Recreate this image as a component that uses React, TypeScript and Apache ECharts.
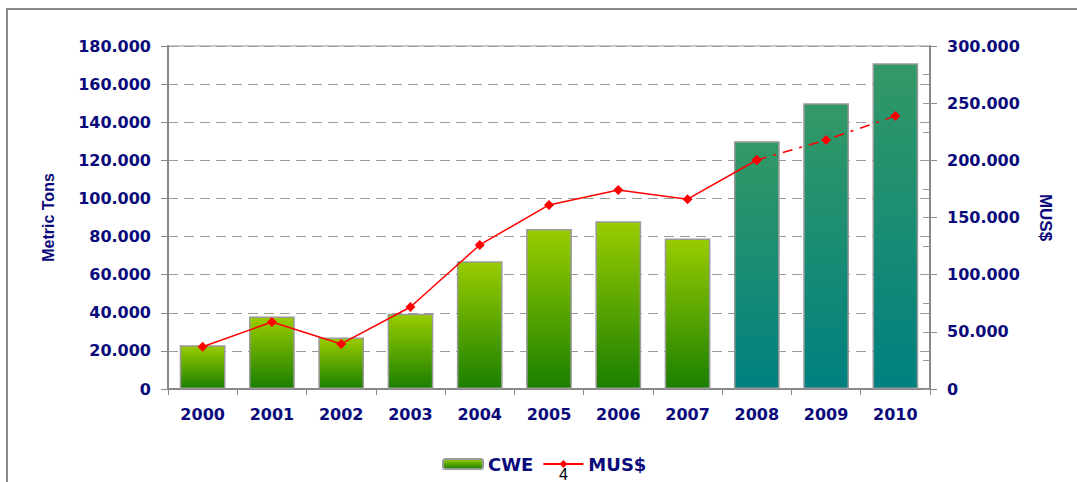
import React, { useEffect, useRef } from "react";
import * as echarts from "echarts";

const years = ["2000", "2001", "2002", "2003", "2004", "2005", "2006", "2007", "2008", "2009", "2010"];
const cweTons = [23000, 38000, 27000, 39500, 67000, 84000, 88000, 79000, 130000, 150000, 171000];
const musActual = [37000, 58600, 39400, 71700, 126000, 161000, 174000, 166000, 200300, null, null];
const musForecast = [null, null, null, null, null, null, null, null, 200300, 217800, 238800];
const forecastFrom = 8;

const fmt = (v: number) => String(v).replace(/\B(?=(\d{3})+(?!\d))/g, ".");

const greenGrad = {
  type: "linear", x: 0, y: 0, x2: 0, y2: 1,
  colorStops: [
    { offset: 0, color: "#99CC00" },
    { offset: 1, color: "#1A7F00" },
  ],
};
const tealGrad = {
  type: "linear", x: 0, y: 0, x2: 0, y2: 1,
  colorStops: [
    { offset: 0, color: "#339966" },
    { offset: 1, color: "#008080" },
  ],
};

const navy = "#0A0A7A";
const tickFont = { fontFamily: "DejaVu Sans", fontWeight: "bold", fontSize: 16, color: navy };

export default function App() {
  const ref = useRef<HTMLDivElement>(null);
  useEffect(() => {
    if (!ref.current) return;
    const chart = echarts.init(ref.current, null, { renderer: "svg" });
    chart.setOption({
      animation: false,
      backgroundColor: "#ffffff",
      grid: { left: 168, right: 147, top: 46, bottom: 93, show: true, borderColor: "#999999", borderWidth: 1 },
      legend: {
        data: ["CWE", "MUS$"],
        left: 437,
        top: 450,
        itemWidth: 40,
        itemHeight: 10,
        itemGap: 9,
        textStyle: { fontFamily: "DejaVu Sans", fontWeight: "bold", fontSize: 18, color: navy },
      },
      xAxis: {
        type: "category",
        data: years,
        axisLine: { lineStyle: { color: "#888888", width: 2 } },
        axisTick: { show: true, length: 6, lineStyle: { color: "#888888" } },
        axisLabel: { ...tickFont, margin: 17 },
      },
      yAxis: [
        {
          type: "value",
          min: 0,
          max: 180000,
          interval: 20000,
          name: "Metric Tons",
          nameLocation: "middle",
          nameGap: 112,
          nameTextStyle: { fontFamily: "Liberation Sans", fontWeight: "bold", fontSize: 16, color: navy },
          axisLine: { show: true, lineStyle: { color: "#888888", width: 2 } },
          axisTick: { show: true, length: 7, lineStyle: { color: "#888888" } },
          axisLabel: { ...tickFont, margin: 17, formatter: (v: number) => fmt(v) },
          splitLine: { show: true, lineStyle: { color: "#9a9a9a", type: [10, 6] } },
        },
        {
          type: "value",
          min: 0,
          max: 300000,
          interval: 25000,
          name: "MUS$",
          nameLocation: "middle",
          nameGap: 107,
          nameRotate: -90,
          nameTextStyle: { fontFamily: "Liberation Sans", fontWeight: "bold", fontSize: 17, color: navy },
          axisLine: { show: true, lineStyle: { color: "#888888", width: 2 } },
          axisTick: { show: true, inside: true, length: 7, lineStyle: { color: "#999999" } },
          axisLabel: {
            ...tickFont,
            margin: 17,
            formatter: (v: number) => (v % 50000 === 0 ? fmt(v) : ""),
          },
          splitLine: { show: false },
        },
        {
          type: "value",
          position: "right",
          min: 0,
          max: 300000,
          interval: 50000,
          axisLine: { show: false },
          axisTick: { show: true, length: 7, lineStyle: { color: "#888888" } },
          axisLabel: { show: false },
          splitLine: { show: false },
        },
      ],
      series: [
        {
          name: "CWE",
          type: "bar",
          barWidth: "66%",
          itemStyle: { color: greenGrad, borderColor: "#999999", borderWidth: 1.5 },
          data: cweTons.map((v, i) => ({
            value: v,
            itemStyle: { color: i >= forecastFrom ? tealGrad : greenGrad },
          })),
        },
        {
          name: "MUS$",
          type: "line",
          yAxisIndex: 1,
          data: musActual,
          symbol: "diamond",
          symbolSize: 10,
          itemStyle: { color: "#FF0000" },
          lineStyle: { color: "#FF0000", width: 1.5 },
          z: 5,
        },
        {
          name: "MUS$ forecast",
          type: "line",
          yAxisIndex: 1,
          data: musForecast,
          symbol: "diamond",
          symbolSize: 10,
          itemStyle: { color: "#FF0000" },
          lineStyle: { color: "#FF0000", width: 1.5, type: [10, 7, 3, 7] },
          z: 5,
        },
      ],
      graphic: [
        {
          type: "rect",
          shape: { x: 7, y: 9, width: 1200, height: 600 },
          style: { fill: "none", stroke: "#8a8a8a", lineWidth: 2 },
          silent: true,
        },
        {
          type: "text",
          x: 559,
          y: 466,
          style: { text: "4", fontFamily: "Liberation Sans", fontSize: 16, fill: "#000000" },
          silent: true,
        },
      ],
    });
    return () => chart.dispose();
  }, []);
  return <div ref={ref} style={{ position: "fixed", left: 0, top: 0, width: 1077, height: 482 }} />;
}
